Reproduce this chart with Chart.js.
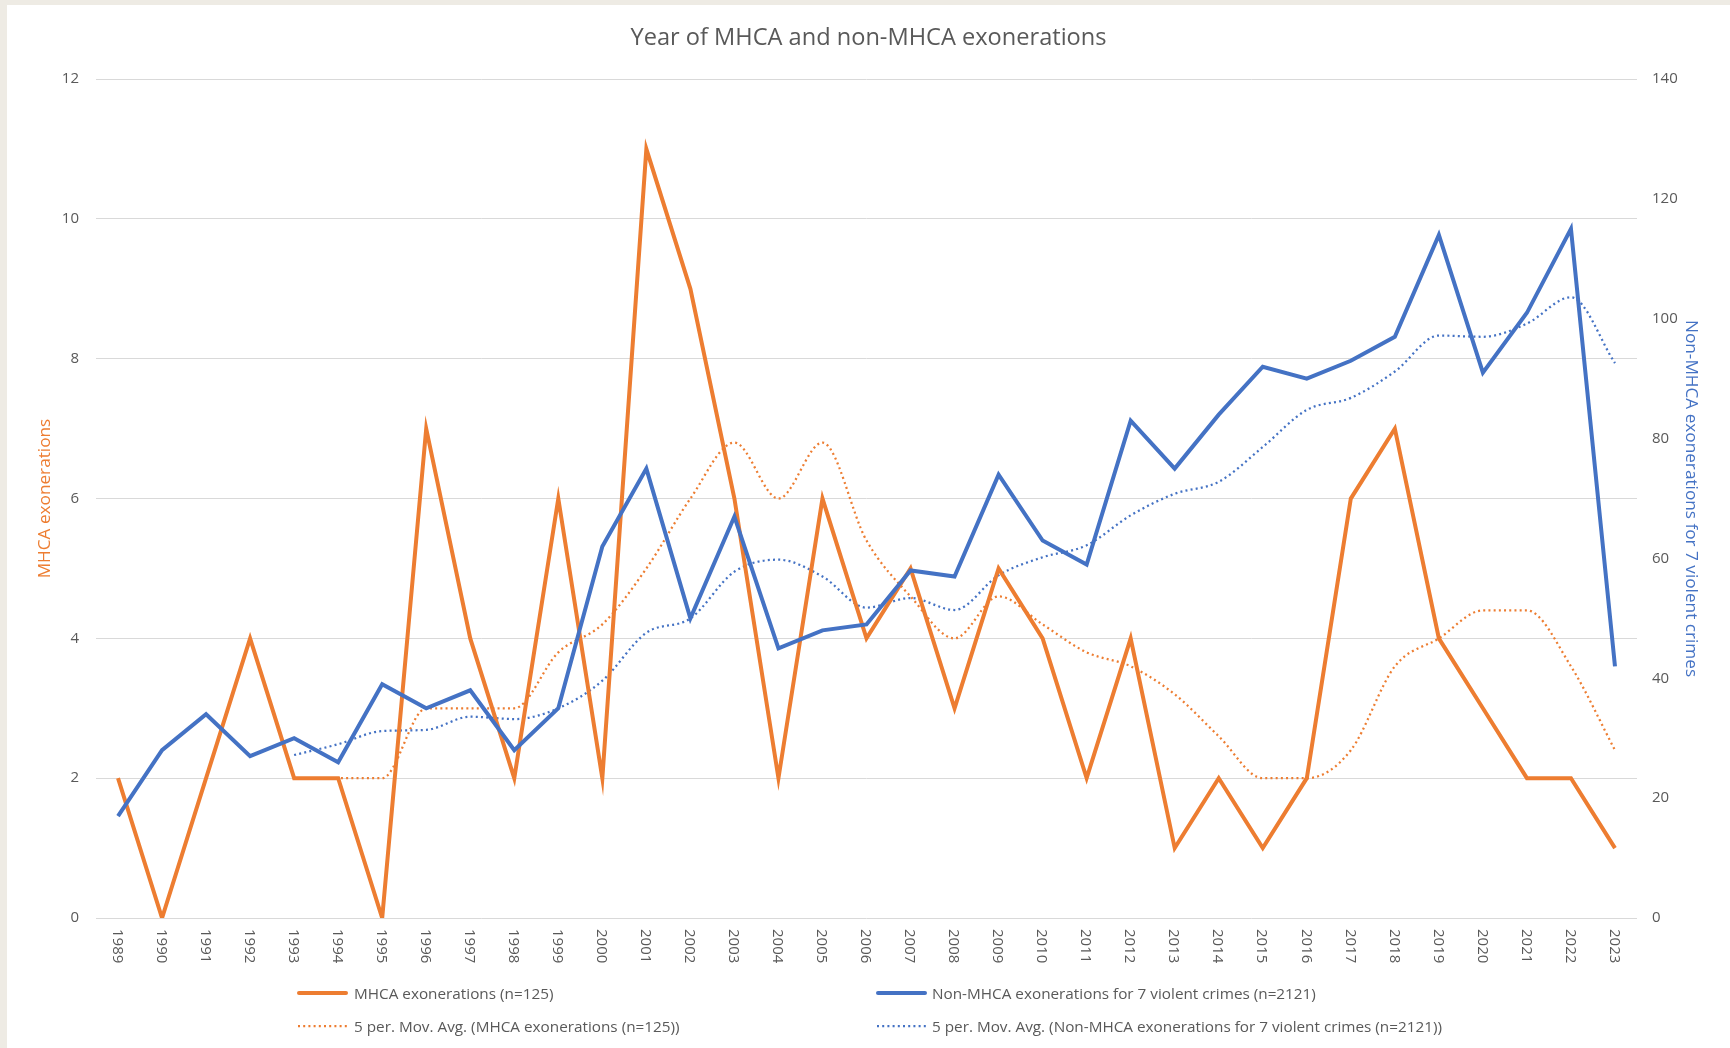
<!DOCTYPE html>
<html>
<head>
<meta charset="utf-8">
<script src="https://cdn.jsdelivr.net/npm/chart.js@4.4.1/dist/chart.umd.min.js"></script>
<style>
  html, body { margin: 0; padding: 0; background: #EEEBE4; width: 1730px; height: 1048px; overflow: hidden; }
  #panel { position: absolute; left: 7px; top: 5px; width: 1723px; height: 1043px; background: #FFFFFF; }
  #c { position: absolute; left: 0; top: 0; }
  .lg { position: absolute; font-family: "Open Sans", sans-serif; font-size: 15.3px; color: #595959; white-space: nowrap; line-height: 20px; }
  .lg svg { position: absolute; top: 0; }
</style>
</head>
<body>
<div id="panel">
  <canvas id="c" width="1723" height="1043"></canvas>
</div>
<script>
// ---- data ----
const years = ["1989","1990","1991","1992","1993","1994","1995","1996","1997","1998","1999","2000","2001","2002","2003","2004","2005","2006","2007","2008","2009","2010","2011","2012","2013","2014","2015","2016","2017","2018","2019","2020","2021","2022","2023"];
const mhca = [2,0,2,4,2,2,0,7,4,2,6,2,11,9,6,2,6,4,5,3,5,4,2,4,1,2,1,2,6,7,4,3,2,2,1];
const nonMhca = [17,28,34,27,30,26,39,35,38,28,35,62,75,50,67,45,48,49,58,57,74,63,59,83,75,84,92,90,93,97,114,91,101,115,42];
const mhcaAvg = [null,null,null,null,2,2,2,3,3,3,3.8,4.2,5,6,6.8,6,6.8,5.4,4.6,4,4.6,4.2,3.8,3.6,3.2,2.6,2,2,2.4,3.6,4,4.4,4.4,3.6,2.4];
const nonMhcaAvg = [null,null,null,null,27.2,29,31.2,31.4,33.6,33.2,35,39.6,47.6,50,57.8,59.8,57,51.8,53.4,51.4,57.2,60.2,62.2,67.2,70.8,72.8,78.6,84.8,86.8,91.2,97.2,97,99.2,103.6,92.6];
const leftTicks = [0,2,4,6,8,10,12];
const rightTicks = [0,20,40,60,80,100,120,140];
const labels = {
  title: "Year of MHCA and non-MHCA exonerations",
  left: "MHCA exonerations",
  right: "Non-MHCA exonerations for 7 violent crimes",
  s1: "MHCA exonerations (n=125)",
  s2: "Non-MHCA exonerations for 7 violent crimes (n=2121)",
  s3: "5 per. Mov. Avg. (MHCA exonerations (n=125))",
  s4: "5 per. Mov. Avg. (Non-MHCA exonerations for 7 violent crimes (n=2121))"
};

const ORANGE = "#ED7D31", BLUE = "#4472C4", GREY = "#595959";

const xLabelPlugin = {
  id: "xLabels",
  afterDraw(chart) {
    const x = chart.scales.x, ctx = chart.ctx, area = chart.chartArea;
    ctx.save();
    ctx.font = "15px 'Open Sans'";
    ctx.fillStyle = GREY;
    ctx.textAlign = "left";
    ctx.textBaseline = "middle";
    years.forEach((y, i) => {
      const px = x.getPixelForValue(i);
      ctx.save();
      ctx.translate(px - 1, area.bottom + 11);
      ctx.rotate(Math.PI / 2);
      ctx.fillText(y, 0, 0);
      ctx.restore();
    });
    ctx.restore();
  }
};

new Chart(document.getElementById("c"), {
  type: "line",
  data: {
    labels: years,
    datasets: [
      { label: labels.s2, data: nonMhca, yAxisID: "y2", borderColor: BLUE, borderWidth: 4, pointRadius: 0, order: 0, tension: 0 },
      { label: labels.s1, data: mhca, yAxisID: "y", borderColor: ORANGE, borderWidth: 4, pointRadius: 0, order: 1, tension: 0 },
      { label: labels.s4, data: nonMhcaAvg, yAxisID: "y2", borderColor: BLUE, borderWidth: 2.25, borderDash: [2, 3.2], pointRadius: 0, order: 2, cubicInterpolationMode: "monotone" },
      { label: labels.s3, data: mhcaAvg, yAxisID: "y", borderColor: ORANGE, borderWidth: 2.25, borderDash: [2, 3.2], pointRadius: 0, order: 3, cubicInterpolationMode: "monotone" }
    ]
  },
  options: {
    responsive: false,
    animation: false,
    devicePixelRatio: 1,
    layout: { padding: { left: 0, right: 0, top: 0, bottom: 130 } },
    plugins: {
      legend: { display: false },
      tooltip: { enabled: false },
      title: {
        display: true, text: labels.title, color: GREY,
        font: { family: "'Open Sans'", size: 23.6, weight: "normal" },
        padding: { top: 19, bottom: 26.8 }
      }
    },
    scales: {
      x: {
        type: "category",
        offset: true,
        grid: { display: false, drawTicks: false },
        border: { display: false },
        ticks: { display: false }
      },
      y: {
        position: "left",
        min: 0, max: 12,
        afterBuildTicks(s) { s.ticks = leftTicks.map(v => ({ value: v })); },
        afterFit(s) { s.width = 89; },
        grid: { color: "#D9D9D9", lineWidth: 1, drawTicks: false },
        border: { display: false },
        ticks: { color: GREY, padding: 17, font: { family: "'Open Sans'", size: 15 } },
        title: { display: true, text: labels.left, color: ORANGE, font: { family: "'Open Sans'", size: 17.2 }, padding: { top: 27.8 } }
      },
      y2: {
        position: "right",
        min: 0, max: 140,
        afterBuildTicks(s) { s.ticks = rightTicks.map(v => ({ value: v })); },
        afterFit(s) { s.width = 93; },
        grid: { drawOnChartArea: false, drawTicks: false },
        border: { display: false },
        ticks: { color: GREY, padding: 15, font: { family: "'Open Sans'", size: 15 } },
        title: { display: true, text: labels.right, color: BLUE, font: { family: "'Open Sans'", size: 17.2 }, padding: { top: 28.8 } }
      }
    }
  },
  plugins: [xLabelPlugin]
});

// ---- legend (HTML) ----
const panel = document.getElementById("panel");
function legendItem(text, color, dotted, lineLeft, textLeft, cy) {
  const d = document.createElement("div");
  d.className = "lg";
  d.style.left = (lineLeft - 7) + "px";
  d.style.top = (cy - 5 - 10) + "px";
  d.style.paddingLeft = (textLeft - lineLeft) + "px";
  const w = 51;
  const svg = dotted
    ? `<svg width="${w}" height="20" style="left:0"><line x1="1" y1="10" x2="${w}" y2="10" stroke="${color}" stroke-width="2.25" stroke-dasharray="2 3.2"/></svg>`
    : `<svg width="${w}" height="20" style="left:0"><line x1="2" y1="10" x2="${w-2}" y2="10" stroke="${color}" stroke-width="4" stroke-linecap="round"/></svg>`;
  d.innerHTML = svg + "<span></span>";
  d.querySelector("span").textContent = text;
  panel.appendChild(d);
}
legendItem(labels.s1, ORANGE, false, 297, 354, 993);
legendItem(labels.s2, BLUE, false, 876, 932, 993);
legendItem(labels.s3, ORANGE, true, 297, 354, 1026);
legendItem(labels.s4, BLUE, true, 876, 932, 1026);
</script>
</body>
</html>
